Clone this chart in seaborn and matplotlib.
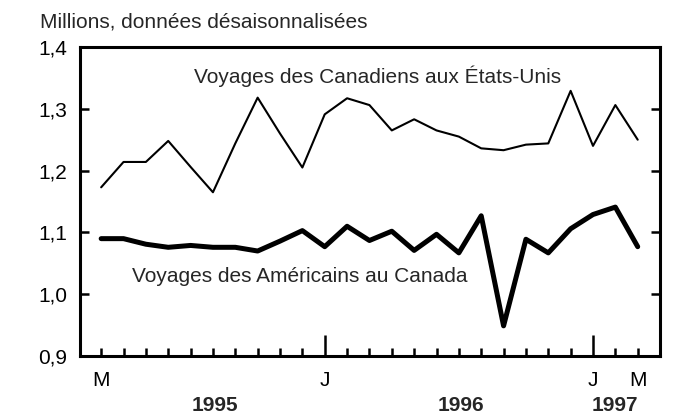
import matplotlib
matplotlib.use("Agg")
import matplotlib.pyplot as plt
import matplotlib.transforms as mtransforms
import seaborn as sns
import numpy as np
import pandas as pd

# Monthly data, March 1995 to March 1997 (millions, seasonally adjusted)
months = list(range(25))
canadiens_usa = [1.173, 1.214, 1.214, 1.248, 1.206, 1.165, 1.244, 1.318, 1.260, 1.205,
                 1.291, 1.317, 1.306, 1.265, 1.283, 1.265, 1.255, 1.236, 1.233, 1.242,
                 1.244, 1.329, 1.240, 1.306, 1.250]
americains_canada = [1.090, 1.090, 1.081, 1.076, 1.079, 1.076, 1.076, 1.070, 1.086, 1.103,
                     1.077, 1.110, 1.087, 1.102, 1.071, 1.097, 1.067, 1.127, 0.949, 1.089,
                     1.067, 1.106, 1.129, 1.141, 1.077]

month_ticks = [0, 10, 22, 24]
month_labels = ["M", "J", "J", "M"]
year_pos = [5.1, 16.1, 23.0]
year_labels = ["1995", "1996", "1997"]
y_ticks = [0.9, 1.0, 1.1, 1.2, 1.3, 1.4]

df = pd.DataFrame({"mois": months, "can": canadiens_usa, "ame": americains_canada})

sns.set_style("ticks")
plt.rcParams['font.family'] = ['Liberation Sans', 'DejaVu Sans']
fs = 15

fig = plt.figure(figsize=(6.89, 4.19), dpi=100)
ax = fig.add_axes([0.116, 0.150, 0.842, 0.738])

sns.lineplot(data=df, x="mois", y="can", ax=ax, color="black", linewidth=1.5)
sns.lineplot(data=df, x="mois", y="ame", ax=ax, color="black", linewidth=3.6)

ax.set_xlim(-0.95, 25.0)
ax.set_ylim(0.9, 1.4)
ax.set_xlabel("")
ax.set_ylabel("")

for side in ["left", "right", "top", "bottom"]:
    ax.spines[side].set_visible(True)
    ax.spines[side].set_linewidth(2.2)
    ax.spines[side].set_color("black")

ax.set_yticks(y_ticks)
ax.set_yticklabels([f"{v:.1f}".replace(".", ",") for v in y_ticks])
ax.tick_params(axis="y", direction="in", left=True, right=True, length=6.5,
               width=1.8, pad=9, labelsize=fs, colors="black")

ax.set_xticks(month_ticks)
ax.set_xticklabels(month_labels)
ax.set_xticks([m for m in months if m not in month_ticks], minor=True)
ax.tick_params(axis="x", which="both", direction="in", bottom=True, top=False,
               width=1.8, pad=11, labelsize=fs, colors="black")
ax.tick_params(axis="x", which="minor", length=6)
for pos, tick in zip(month_ticks, ax.xaxis.get_major_ticks()):
    tick.tick1line.set_markersize(15 if pos in (10, 22) else 6)

trans = mtransforms.blended_transform_factory(ax.transData, ax.transAxes)
for pos, lab in zip(year_pos, year_labels):
    ax.text(pos, -0.159, lab, transform=trans, ha="center", va="center",
            fontweight="bold", fontsize=fs)

ax.text(12.36, 1.352, "Voyages des Canadiens aux États-Unis", ha="center", va="center",
        fontsize=fs)
ax.text(8.87, 1.028, "Voyages des Américains au Canada", ha="center", va="center",
        fontsize=fs)

fig.text(40 / 689, 1 - 22 / 419, "Millions, données désaisonnalisées", ha="left",
         va="center", fontsize=fs)

fig.savefig("out.png", dpi=100)
plt.close(fig)
